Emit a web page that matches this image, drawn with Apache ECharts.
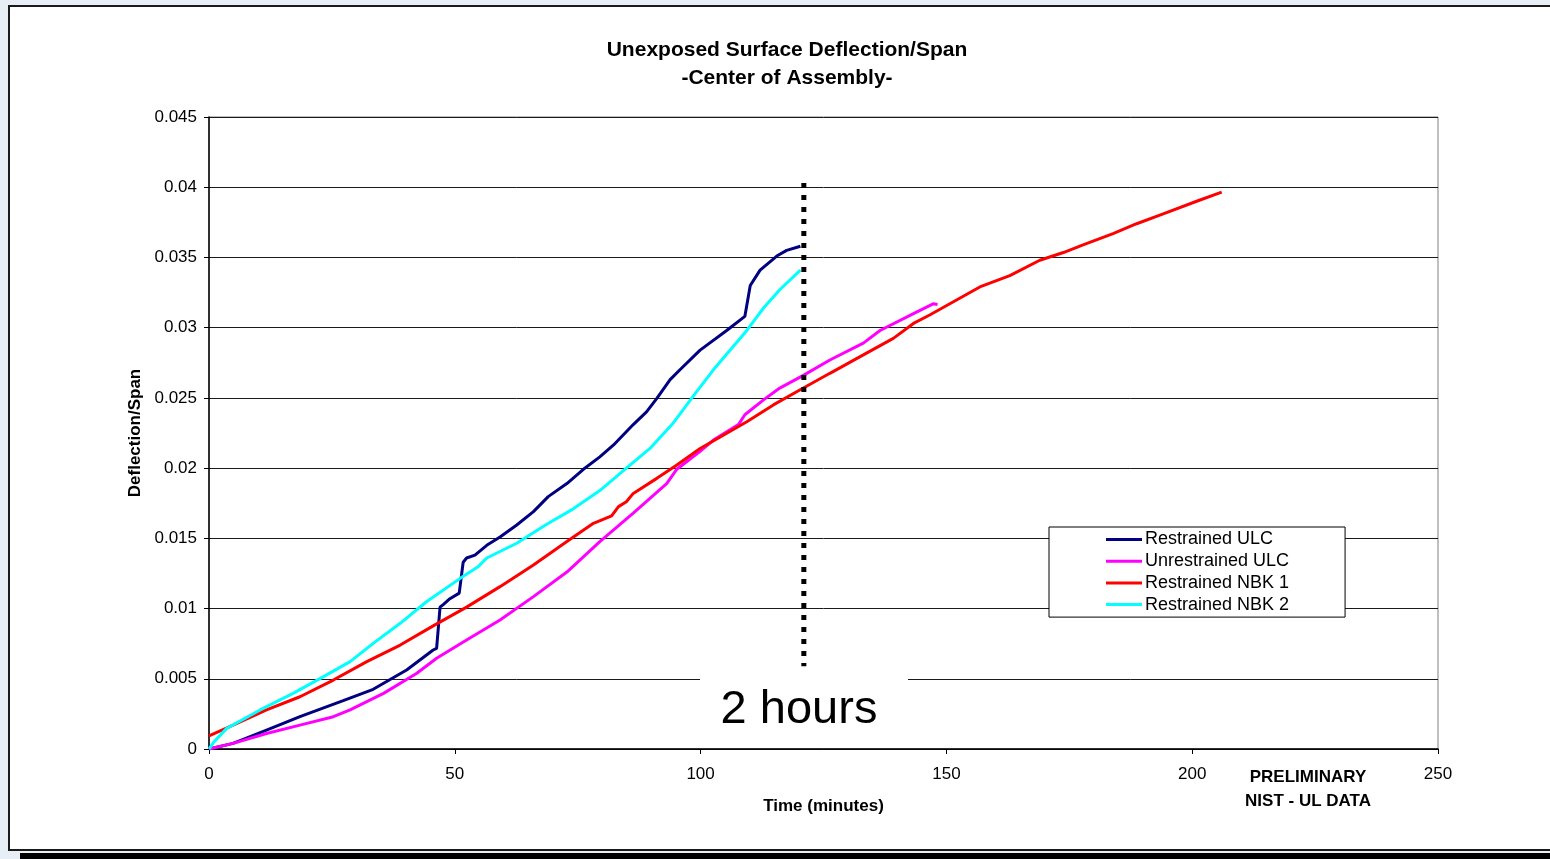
<!DOCTYPE html>
<html>
<head>
<meta charset="utf-8">
<script src="https://cdn.jsdelivr.net/npm/echarts@6/dist/echarts.min.js"></script>
<style>
  html, body { margin: 0; padding: 0; background: #e8eef6; overflow: hidden; }
  #panel { position: absolute; left: 8px; top: 5px; width: 1560px; height: 846px; background: #fff; border: 2px solid #1a1a1a; box-sizing: border-box; }
  #shadow { position: absolute; left: 20px; top: 853px; width: 1540px; height: 6px; background: #000; }
  #main { position: absolute; left: 0; top: 0; width: 1550px; height: 859px; }
</style>
</head>
<body>
<div id="panel"></div>
<div id="shadow"></div>
<div id="main"></div>
<script>
// ---- data (time in minutes, deflection/span) ----
const seriesNames = ['Restrained ULC', 'Unrestrained ULC', 'Restrained NBK 1', 'Restrained NBK 2'];

const restrainedULC = [
  [0,0],[4.9,0.0004],[11.7,0.00135],[18.5,0.0023],[27.3,0.00344],[33.4,0.00425],[40.2,0.00563],
  [45.6,0.00705],[46.3,0.00717],[47,0.0101],[47.7,0.0103],[49,0.0107],[50.9,0.0111],[51.7,0.0133],
  [52.4,0.0136],[54.1,0.0138],[56.5,0.0145],[59.2,0.0151],[62.6,0.01595],[66,0.0169],[69,0.01797],
  [72.8,0.0189],[76.1,0.0199],[79.5,0.0208],[82.3,0.02165],[86.3,0.0231],[89,0.024],[91.1,0.02496],
  [93.8,0.0263],[95.8,0.027],[99.9,0.0284],[105.3,0.0298],[109,0.0308],[110.1,0.033],[112.1,0.0341],
  [115.5,0.0351],[117.5,0.0355],[120.3,0.0358]
];

const unrestrainedULC = [
  [0,0],[4.9,0.0004],[11.7,0.0011],[18.5,0.0017],[25.3,0.0023],[28.7,0.00278],[35.5,0.00396],
  [42.2,0.00538],[46.3,0.00646],[52.4,0.00776],[59.2,0.00919],[66,0.01085],[72.8,0.0126],
  [79.5,0.01477],[86.3,0.0168],[93.1,0.0189],[95.1,0.0199],[99.9,0.0212],[102.6,0.022],
  [107.7,0.0231],[109,0.0238],[112.8,0.02486],[116.1,0.0257],[120.9,0.0266],[126.3,0.0277],
  [133.1,0.0289],[136.5,0.0298],[143.3,0.031],[147.3,0.0317],[148.2,0.03165]
];

const restrainedNBK1 = [
  [0,0.00093],[4.9,0.0017],[11.7,0.00278],[18.5,0.00372],[25.3,0.00491],[32.1,0.00622],[38.9,0.0074],
  [45.6,0.00877],[52.4,0.0101],[59.2,0.01156],[66,0.0131],[72.8,0.01477],[78.2,0.01607],[81.9,0.0166],
  [83.3,0.01726],[84.9,0.0176],[86.3,0.0182],[91.1,0.01927],[95.1,0.0202],[99.9,0.0214],[103.9,0.0222],
  [109.4,0.0233],[114.8,0.0245],[120.9,0.0257],[126.3,0.02675],[133.1,0.02806],[139.2,0.02924],
  [143.3,0.0303],[146.6,0.0309],[150.7,0.0317],[156.8,0.0329],[162.9,0.0337],[169,0.0348],
  [173.8,0.03535],[177.8,0.0359],[183.9,0.0367],[188.7,0.0374],[194.1,0.0381],[200.9,0.039],[206,0.03965]
];

const restrainedNBK2 = [
  [0,0],[1,0.0005],[3.6,0.00147],[10.4,0.00278],[17.1,0.00396],[23.3,0.00515],[28.7,0.00622],
  [33.4,0.00752],[38.9,0.00895],[44.3,0.0105],[51.1,0.01215],[54.8,0.013],[56.5,0.0136],[62.6,0.01465],
  [68.7,0.016],[74.1,0.0171],[79.5,0.0184],[84.9,0.02],[89.7,0.0214],[94.4,0.0232],[99.2,0.02545],
  [102.6,0.027],[109.4,0.0298],[112.8,0.0314],[116.1,0.0327],[120.3,0.0341]
];

const twoHourLine = [[121, 0.0403], [121, 0.0059]];

const xTickLabels = ['0', '50', '100', '150', '200', '250'];
const yTickLabels = ['0', '0.005', '0.01', '0.015', '0.02', '0.025', '0.03', '0.035', '0.04', '0.045'];

// ---- chart ----
const FONT = '"Liberation Sans", Arial, sans-serif';
const colors = ['#000080', '#FF00FF', '#FF0000', '#00FFFF'];
const chart = echarts.init(document.getElementById('main'), null, { renderer: 'canvas' });

function lineSeries(name, data, color) {
  return {
    name: name, type: 'line', data: data, showSymbol: false, symbol: 'none',
    lineStyle: { color: color, width: 3 }, itemStyle: { color: color },
    animation: false, z: 3
  };
}

const option = {
  animation: false,
  backgroundColor: 'transparent',
  textStyle: { fontFamily: FONT },
  grid: { left: 209, right: 112, top: 117, bottom: 110, show: true, borderColor: '#808080', borderWidth: 1, backgroundColor: 'transparent' },
  xAxis: {
    type: 'value', min: 0, max: 250, interval: 50,
    name: 'Time (minutes)', nameLocation: 'middle', nameGap: 49,
    nameTextStyle: { fontFamily: FONT, fontSize: 17, fontWeight: 'bold', color: '#000' },
    axisLine: { show: true, onZero: false, lineStyle: { color: '#000', width: 1.5 } },
    axisTick: { show: true, length: 5, lineStyle: { color: '#000' } },
    axisLabel: { fontFamily: FONT, fontSize: 17, color: '#000', margin: 17,
      formatter: function (v) { return xTickLabels[Math.round(v / 50)]; } },
    splitLine: { show: false }
  },
  yAxis: {
    type: 'value', min: 0, max: 0.045, interval: 0.005,
    name: 'Deflection/Span', nameLocation: 'middle', nameGap: 65, nameRotate: 90,
    nameTextStyle: { fontFamily: FONT, fontSize: 17, fontWeight: 'bold', color: '#000' },
    axisLine: { show: true, onZero: false, lineStyle: { color: '#000', width: 1.5 } },
    axisTick: { show: true, length: 5, lineStyle: { color: '#000' } },
    axisLabel: { fontFamily: FONT, fontSize: 17, color: '#000', margin: 12,
      formatter: function (v) { return yTickLabels[Math.round(v / 0.005)]; } },
    splitLine: { show: true, lineStyle: { color: '#1a1a1a', width: 1 } }
  },
  legend: {
    orient: 'vertical', left: 1049, top: 527,
    data: seriesNames,
    icon: 'rect', itemWidth: 36, itemHeight: 3, itemGap: 0.7,
    padding: [2, 56, 2, 57],
    backgroundColor: '#fff', borderColor: '#000', borderWidth: 1,
    textStyle: { fontFamily: FONT, fontSize: 18, color: '#000', lineHeight: 21, padding: [0, 0, 0, -2] },
    selectedMode: false, z: 20
  },
  graphic: [
    { type: 'text', z: 20, style: { text: 'Unexposed Surface Deflection/Span', x: 787, y: 50, align: 'center', verticalAlign: 'middle', font: 'bold 21px ' + FONT, fill: '#000' } },
    { type: 'text', z: 20, style: { text: '-Center of Assembly-', x: 787, y: 78, align: 'center', verticalAlign: 'middle', font: 'bold 21px ' + FONT, fill: '#000' } },
    { type: 'rect', z: 10, shape: { x: 700, y: 668, width: 208, height: 72 }, style: { fill: '#fff' } },
    { type: 'text', z: 20, style: { text: '2 hours', x: 799, y: 710, align: 'center', verticalAlign: 'middle', font: '47px ' + FONT, fill: '#000' } },
    { type: 'text', z: 20, style: { text: 'PRELIMINARY', x: 1308, y: 777, align: 'center', verticalAlign: 'middle', font: 'bold 17px ' + FONT, fill: '#000' } },
    { type: 'text', z: 20, style: { text: 'NIST - UL DATA', x: 1308, y: 801, align: 'center', verticalAlign: 'middle', font: 'bold 17px ' + FONT, fill: '#000' } }
  ],
  series: [
    lineSeries(seriesNames[0], restrainedULC, colors[0]),
    lineSeries(seriesNames[1], unrestrainedULC, colors[1]),
    lineSeries(seriesNames[2], restrainedNBK1, colors[2]),
    lineSeries(seriesNames[3], restrainedNBK2, colors[3]),
    {
      name: '2 hours', type: 'line', data: twoHourLine, showSymbol: false, symbol: 'none',
      lineStyle: { color: '#000', width: 5, type: [5, 7], cap: 'butt' },
      animation: false, z: 4, silent: true
    }
  ]
};
chart.setOption(option);
</script>
</body>
</html>
